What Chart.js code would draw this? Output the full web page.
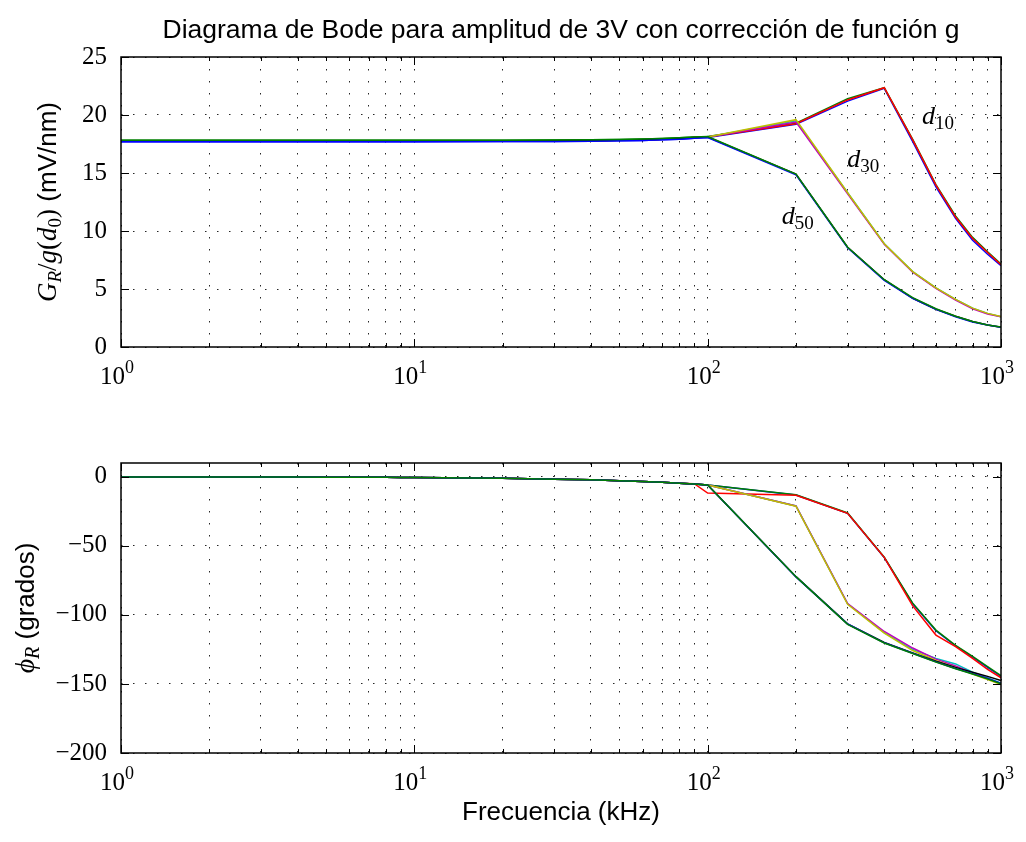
<!DOCTYPE html>
<html>
<head>
<meta charset="utf-8">
<title>Diagrama de Bode</title>
<script src="https://cdn.jsdelivr.net/npm/chart.js@4.4.1/dist/chart.umd.min.js"></script>
<style>
  html, body { margin: 0; padding: 0; background: #fff; }
  #wrap { position: relative; width: 1026px; height: 842px; }
  canvas { position: absolute; left: 0; }
  #gainChart { top: 0; }
  #phaseChart { top: 400px; }
</style>
</head>
<body>
<div id="wrap">
  <canvas id="gainChart" width="1026" height="400"></canvas>
  <canvas id="phaseChart" width="1026" height="442"></canvas>
</div>
<script>
// --- Frequencies (kHz) ---
const freqKHz = [1, 2, 3, 4, 5, 6, 7, 8, 9, 10, 20, 30, 40, 50, 60, 70, 80, 90,
                 100, 200, 300, 400, 500, 600, 700, 800, 900, 1000];

// --- Gain below 100 kHz (1 .. 90 kHz), three nearly equal variants ---
const gainLowB = [17.70, 17.70, 17.70, 17.70, 17.70, 17.70, 17.70, 17.70, 17.70,
                  17.70, 17.71, 17.72, 17.74, 17.77, 17.81, 17.86, 17.92, 17.99];
const gainLowM = [17.76, 17.76, 17.76, 17.76, 17.76, 17.76, 17.76, 17.76, 17.76,
                  17.76, 17.77, 17.78, 17.80, 17.83, 17.87, 17.92, 17.98, 18.05];
const gainLowG = [17.82, 17.82, 17.82, 17.82, 17.82, 17.82, 17.82, 17.82, 17.82,
                  17.82, 17.83, 17.84, 17.86, 17.89, 17.93, 17.98, 18.04, 18.11];

// --- Gain 100 .. 1000 kHz ---
const gainD10a = [18.05, 19.20, 21.20, 22.30, 17.70, 13.80, 11.10, 9.20, 8.00, 7.00];
const gainD10b = [18.15, 19.30, 21.40, 22.35, 17.90, 14.00, 11.30, 9.45, 8.20, 7.15];
const gainD10c = [18.10, 19.25, 21.30, 22.35, 17.85, 13.95, 11.20, 9.35, 8.15, 7.10];
const gainD30a = [18.10, 19.50, 13.30, 8.90, 6.50, 5.10, 4.10, 3.35, 2.90, 2.60];
const gainD30b = [18.10, 19.40, 13.20, 8.85, 6.45, 5.05, 4.05, 3.30, 2.85, 2.60];
const gainD30c = [18.10, 19.60, 13.30, 8.90, 6.50, 5.10, 4.10, 3.35, 2.90, 2.62];
const gainD50a = [18.10, 14.90, 8.60, 5.80, 4.20, 3.25, 2.65, 2.20, 1.90, 1.70];
const gainD50b = [18.05, 14.85, 8.55, 5.75, 4.20, 3.25, 2.60, 2.15, 1.90, 1.70];
const gainD50c = [18.15, 14.90, 8.60, 5.80, 4.25, 3.30, 2.65, 2.20, 1.90, 1.72];

// --- Phase below 100 kHz (1 .. 90 kHz) ---
const phaseLow = [-0.05, -0.1, -0.15, -0.2, -0.25, -0.3, -0.35, -0.4, -0.45,
                  -0.5, -1.1, -1.7, -2.2, -2.8, -3.4, -4.0, -4.6, -5.2];

// --- Phase 100 .. 1000 kHz ---
const phaseD10a = [-5.9, -13.2, -26.4, -58.5, -92.0, -111.5, -122.5, -130.5, -138.0, -144.5];
const phaseD10b = [-5.9, -13.0, -26.2, -58.2, -91.5, -111.0, -122.0, -130.0, -137.5, -144.0];
const phaseD10c = [-11.8, -13.4, -26.4, -58.3, -93.5, -114.6, -123.0, -131.5, -139.5, -145.5];
const phaseD30a = [-5.9, -21.1, -92.0, -112.8, -125.0, -131.5, -135.5, -141.5, -145.5, -149.5];
const phaseD30b = [-5.9, -21.1, -91.8, -112.0, -124.0, -132.0, -137.0, -142.0, -146.0, -150.0];
const phaseD30c = [-5.9, -21.3, -92.3, -113.2, -125.8, -133.0, -138.0, -142.8, -146.8, -150.5];
const phaseD50a = [-5.9, -72.3, -106.5, -120.0, -127.5, -133.5, -138.0, -141.5, -144.5, -147.5];
const phaseD50b = [-5.9, -72.5, -106.6, -120.2, -127.8, -134.0, -138.8, -142.5, -146.0, -149.5];
const phaseD50c = [-5.9, -72.3, -106.8, -120.3, -128.0, -134.2, -139.0, -142.8, -146.3, -149.8];

// --- Axes ---
const xTickVals = [1, 2, 3, 4, 5, 6, 7, 8, 9, 10, 20, 30, 40, 50, 60, 70, 80, 90,
                   100, 200, 300, 400, 500, 600, 700, 800, 900, 1000];
const gainTicks = [0, 5, 10, 15, 20, 25];
const phaseTicks = [-200, -150, -100, -50, 0];

// --- Curve labels: [subscript, x (kHz), y (mV/nm)] ---
const curveLabels = [["10", 538, 19.2], ["30", 299, 15.5], ["50", 179, 10.6]];

const seriesNames = ["d10 a", "d10 b", "d10 c", "d30 a", "d30 b", "d30 c", "d50 a", "d50 b", "d50 c"];
const seriesColors = ["#0000ff", "#008000", "#ff0000", "#00bfbf", "#bf00bf", "#bfbf00",
                      "#000000", "#0000ff", "#008000"];

const gainSeries = [
  gainLowB.concat(gainD10a), gainLowG.concat(gainD10b), gainLowM.concat(gainD10c),
  gainLowM.concat(gainD30a), gainLowM.concat(gainD30b), gainLowM.concat(gainD30c),
  gainLowM.concat(gainD50a), gainLowB.concat(gainD50b), gainLowG.concat(gainD50c)
];
const phaseSeries = [phaseD10a, phaseD10b, phaseD10c, phaseD30a, phaseD30b, phaseD30c,
                     phaseD50a, phaseD50b, phaseD50c].map(h => phaseLow.concat(h));
// the red d10 trace leaves the others already just after 90 kHz
phaseSeries[2][17] = -5.0;

// --- Fonts / text helpers ---
const SERIF = '"Liberation Serif", "DejaVu Serif", serif';
const SANS = '"Liberation Sans", Arial, sans-serif';
const it = sz => `italic ${sz}px ${SERIF}`;
const rm = sz => `${sz}px ${SERIF}`;
const sans = sz => `${sz}px ${SANS}`;

function drawRich(ctx, parts, x, y, align) {
  let w = 0;
  parts.forEach(p => { ctx.font = p.font; w += ctx.measureText(p.text).width; });
  let cx = align === "center" ? x - w / 2 : x;
  ctx.textAlign = "left";
  ctx.textBaseline = "alphabetic";
  ctx.fillStyle = "#000";
  parts.forEach(p => {
    ctx.font = p.font;
    ctx.fillText(p.text, cx, y + (p.dy || 0));
    cx += ctx.measureText(p.text).width;
  });
}

const isDecade = v => Math.abs(Math.log10(v) - Math.round(Math.log10(v))) < 1e-9;
const fmtTick = v => (v < 0 ? "\u2212" + Math.abs(v) : String(v));

// frame on four sides, inward ticks, 10^n labels, title, rotated y title
const framePlugin = {
  id: "frame",
  afterDatasetsDraw(chart, args, opts) {
    const { ctx, chartArea: a, scales: { x, y } } = chart;
    ctx.save();
    ctx.strokeStyle = "#000";
    ctx.lineWidth = 1;
    ctx.beginPath();
    x.ticks.forEach(t => {
      const px = Math.round(x.getPixelForValue(t.value)) + 0.5;
      const len = isDecade(t.value) ? 8 : 4;
      ctx.moveTo(px, a.bottom); ctx.lineTo(px, a.bottom - len);
      ctx.moveTo(px, a.top); ctx.lineTo(px, a.top + len);
    });
    y.ticks.forEach(t => {
      const py = Math.round(y.getPixelForValue(t.value)) + 0.5;
      ctx.moveTo(a.left, py); ctx.lineTo(a.left + 8, py);
      ctx.moveTo(a.right, py); ctx.lineTo(a.right - 8, py);
    });
    ctx.stroke();
    ctx.lineWidth = 1.5;
    ctx.strokeRect(a.left, a.top, a.right - a.left, a.bottom - a.top);

    x.ticks.filter(t => isDecade(t.value)).forEach(t => {
      const e = Math.round(Math.log10(t.value));
      drawRich(ctx, [{ text: "10", font: rm(25) }, { text: String(e), font: rm(18), dy: -11 }],
               x.getPixelForValue(t.value) - 4, a.bottom + 37, "center");
    });

    if (opts.title) {
      drawRich(ctx, [{ text: opts.title, font: sans(26.5) }], (a.left + a.right) / 2, a.top - 19, "center");
    }

    ctx.translate(a.left - opts.titleOffset, (a.top + a.bottom) / 2);
    ctx.rotate(-Math.PI / 2);
    drawRich(ctx, opts.yTitle, 0, 0, "center");
    ctx.restore();
  }
};

// d10 / d30 / d50 labels on the gain plot
const curveLabelPlugin = {
  id: "curveLabels",
  afterDatasetsDraw(chart) {
    const { ctx, scales: { x, y } } = chart;
    ctx.save();
    curveLabels.forEach(([sub, fx, gy]) => {
      drawRich(ctx, [{ text: "d", font: it(26) }, { text: sub, font: rm(19), dy: 5 }],
               x.getPixelForValue(fx), y.getPixelForValue(gy), "left");
    });
    ctx.restore();
  }
};

function bodeChart(canvasId, series, yMin, yMax, yTickVals, extra) {
  const gridOpts = { color: "rgba(0,0,0,0.85)", lineWidth: 1, drawTicks: false };
  const borderOpts = { display: false, dash: [1.5, 10.5] };
  return new Chart(document.getElementById(canvasId), {
    type: "line",
    data: {
      datasets: series.map((arr, i) => ({
        label: seriesNames[i],
        data: freqKHz.map((f, k) => ({ x: f, y: arr[k] })),
        borderColor: seriesColors[i],
        borderWidth: 1.5,
        pointRadius: 0,
        tension: 0,
        fill: false,
        order: -i
      }))
    },
    options: {
      responsive: false,
      animation: false,
      devicePixelRatio: 1,
      layout: { padding: extra.padding },
      plugins: {
        legend: { display: false },
        tooltip: { enabled: false },
        title: { display: false },
        frame: { title: extra.title, yTitle: extra.yTitle, titleOffset: extra.titleOffset }
      },
      scales: {
        x: {
          type: "logarithmic",
          min: 1,
          max: 1000,
          afterBuildTicks: s => { s.ticks = xTickVals.map(v => ({ value: v })); },
          afterFit: s => { s.height = extra.xHeight; },
          ticks: { display: false },
          grid: gridOpts,
          border: borderOpts,
          title: extra.xTitle || { display: false }
        },
        y: {
          min: yMin,
          max: yMax,
          afterBuildTicks: s => { s.ticks = yTickVals.map(v => ({ value: v })); },
          afterFit: s => { s.width = 121; },
          ticks: { font: { family: SERIF, size: 25 }, color: "#000", padding: 14, callback: v => fmtTick(v) },
          grid: gridOpts,
          border: borderOpts
        }
      }
    },
    plugins: extra.plugins
  });
}

// --- Gain plot ---
bodeChart("gainChart", gainSeries, 0, 25, gainTicks, {
  padding: { left: 0, right: 25, top: 57, bottom: 0 },
  xHeight: 53,
  title: "Diagrama de Bode para amplitud de 3V con corrección de función g",
  yTitle: [
    { text: "G", font: it(27) }, { text: "R", font: it(19), dy: 5 },
    { text: "/", font: rm(27) }, { text: "g", font: it(27) }, { text: "(", font: rm(27) },
    { text: "d", font: it(27) }, { text: "0", font: rm(19), dy: 5 }, { text: ")", font: rm(27) },
    { text: " (mV/nm)", font: sans(26) }
  ],
  titleOffset: 65,
  plugins: [framePlugin, curveLabelPlugin]
});

// --- Phase plot ---
bodeChart("phaseChart", phaseSeries, -200, 10, phaseTicks, {
  padding: { left: 0, right: 25, top: 63, bottom: 0 },
  xHeight: 89,
  xTitle: {
    display: true,
    text: "Frecuencia (kHz)",
    font: { family: SANS, size: 26 },
    color: "#000",
    padding: { top: 0, bottom: 14 }
  },
  yTitle: [
    { text: "\u03d5", font: it(28) }, { text: "R", font: it(20), dy: 5 },
    { text: " (grados)", font: sans(26) }
  ],
  titleOffset: 87,
  plugins: [framePlugin]
});
</script>
</body>
</html>
